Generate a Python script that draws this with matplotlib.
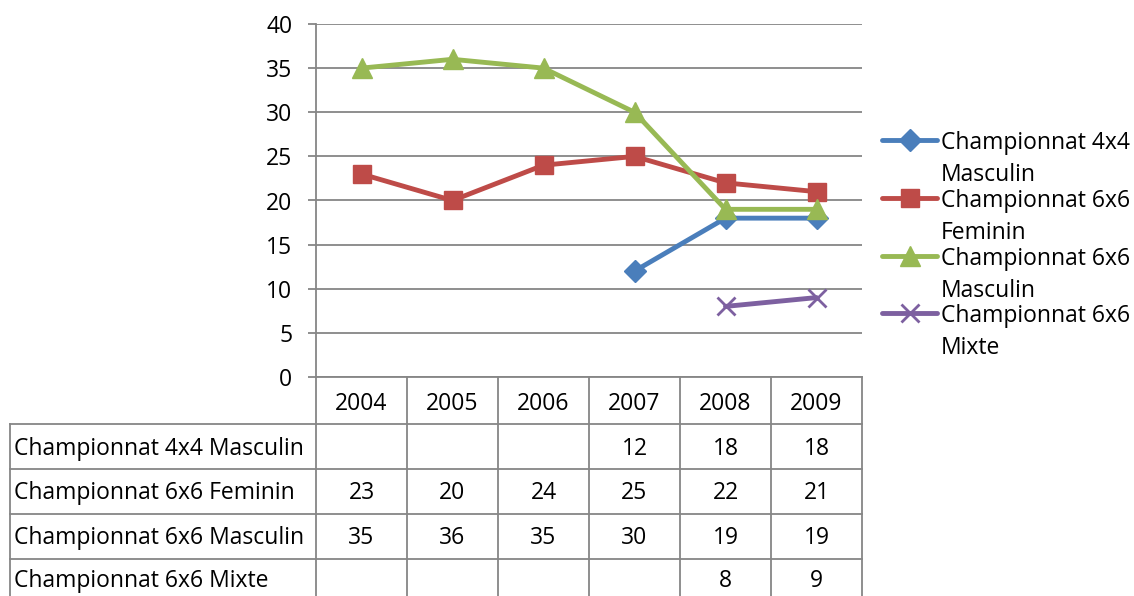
import matplotlib.pyplot as plt
from matplotlib.lines import Line2D
from matplotlib.transforms import blended_transform_factory
import numpy as np

years = ["2004", "2005", "2006", "2007", "2008", "2009"]
series_names = ["Championnat 4x4 Masculin", "Championnat 6x6 Feminin",
                "Championnat 6x6 Masculin", "Championnat 6x6 Mixte"]
legend_labels = ["Championnat 4x4\nMasculin", "Championnat 6x6\nFeminin",
                 "Championnat 6x6\nMasculin", "Championnat 6x6\nMixte"]
masc_4x4 = [None, None, None, 12, 18, 18]
fem_6x6 = [23, 20, 24, 25, 22, 21]
masc_6x6 = [35, 36, 35, 30, 19, 19]
mixte_6x6 = [None, None, None, None, 8, 9]
y_ticks = [0, 5, 10, 15, 20, 25, 30, 35, 40]

colors = ["#4A7EBB", "#BE4B48", "#98B954", "#7D60A0"]
markers = ["D", "s", "^", "x"]
msizes = [11, 12.5, 14, 13]

plt.rcParams['font.family'] = ['Open Sans', 'DejaVu Sans']
FS = 16.5

W, H = 1134, 596
fig = plt.figure(figsize=(W / 100, H / 100), dpi=100)


def fx(px):
    return px / W


def fy(py):
    return 1 - py / H


ax_l, ax_r, ax_t, ax_b = 316, 862, 24, 377
ax = fig.add_axes([fx(ax_l), fy(ax_b), fx(ax_r - ax_l), (ax_b - ax_t) / H])

all_series = [masc_4x4, fem_6x6, masc_6x6, mixte_6x6]
x = np.arange(len(years))
for vals, c, m, ms in zip(all_series, colors, markers, msizes):
    v = np.array([np.nan if a is None else a for a in vals], dtype=float)
    ax.plot(x, v, color=c, lw=3.5, marker=m, ms=ms, mew=2 if m == "x" else 1,
            mec=c, mfc=c, zorder=3, solid_capstyle='round')

ax.set_xlim(-0.5, len(years) - 0.5)
ax.set_ylim(0, 40)
ax.set_yticks(y_ticks)
ax.set_xticks([])
ax.yaxis.grid(True, color="#868686", lw=1.3)
ax.set_axisbelow(True)
for s in ["top", "right"]:
    ax.spines[s].set_visible(False)
ax.spines["left"].set_color("#868686")
ax.spines["bottom"].set_color("#868686")
ax.spines["left"].set_linewidth(1.3)
ax.spines["bottom"].set_linewidth(1.3)
ax.tick_params(axis='y', length=6, width=1.3, color="#868686",
               labelsize=FS, pad=11)

# data table under the plot
tr = blended_transform_factory(ax.transData, fig.transFigure)
grid_c = "#868686"
row_lines = [424, 469, 514, 559]
row_centers = [404, 449, 493, 538, 581]
bounds = np.arange(len(years) + 1) - 0.5
for b in bounds:
    fig.add_artist(Line2D([b, b], [fy(ax_b), fy(H + 5)], transform=tr,
                          color=grid_c, lw=1.3))
for ry in row_lines:
    fig.add_artist(Line2D([fx(10), fx(ax_r)], [fy(ry), fy(ry)],
                          color=grid_c, lw=1.3))
fig.add_artist(Line2D([fx(10), fx(10)], [fy(row_lines[0]), fy(H + 5)],
                      color=grid_c, lw=1.3))

for i, yr in enumerate(years):
    fig.text(i, fy(row_centers[0]), yr, transform=tr, ha='center',
             va='center', fontsize=FS)
for r, (name, vals) in enumerate(zip(series_names, all_series)):
    yc = fy(row_centers[r + 1])
    fig.text(fx(14), yc, name, ha='left', va='center', fontsize=FS)
    for i, v in enumerate(vals):
        if v is not None:
            fig.text(i, yc, str(v), transform=tr, ha='center', va='center',
                     fontsize=FS)

# legend drawn by hand to match the wrapped Excel layout
leg_y = [140, 198, 256, 313]
for lbl, c, m, ms, ly in zip(legend_labels, colors, markers, msizes, leg_y):
    fig.add_artist(Line2D([fx(882), fx(937)], [fy(ly), fy(ly)], color=c,
                          lw=3.5, solid_capstyle='round'))
    fig.add_artist(Line2D([fx(909.5)], [fy(ly)], color=c, marker=m, ms=ms,
                          mew=2 if m == "x" else 1, mfc=c, mec=c, lw=0))
    first, second = lbl.split("\n")
    fig.text(fx(941), fy(ly + 3), first, ha='left', va='center', fontsize=FS)
    fig.text(fx(941), fy(ly + 35), second, ha='left', va='center',
             fontsize=FS)

fig.savefig("out.png", dpi=100)
